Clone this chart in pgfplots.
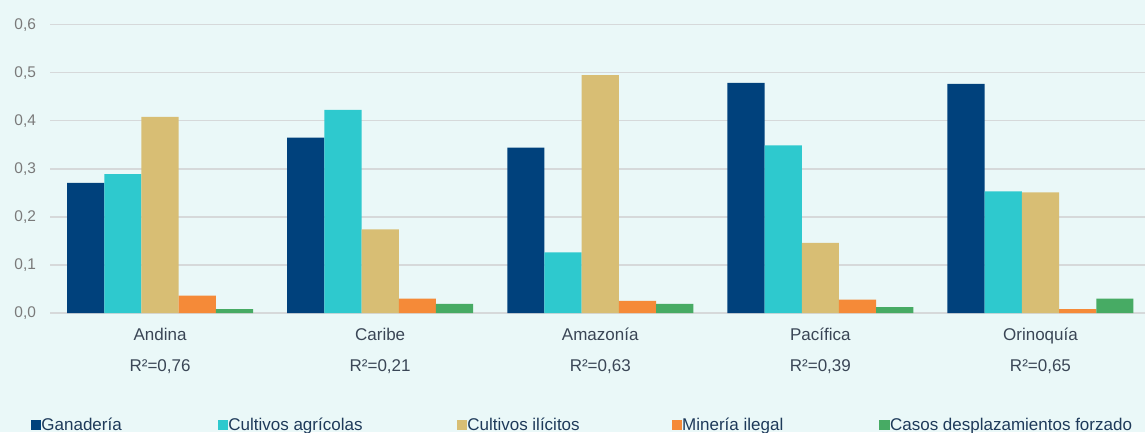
\documentclass[border=0pt]{standalone}
\usepackage{pgfplots}
\pgfplotsset{compat=1.18}
\usepackage{fontspec}
\setmainfont{Liberation Sans}
\definecolor{bgc}{HTML}{EAF8F8}
\definecolor{gridc}{HTML}{D6D9DA}
\definecolor{cGan}{HTML}{00417C}
\definecolor{cAgr}{HTML}{2EC9CE}
\definecolor{cIli}{HTML}{D8BE74}
\definecolor{cMin}{HTML}{F58A38}
\definecolor{cDes}{HTML}{47AB64}
\definecolor{ytc}{HTML}{7A7A7A}
\definecolor{xtc}{HTML}{3A4656}
\definecolor{legc}{HTML}{1E3A5A}
\begin{document}
\begin{tikzpicture}
\useasboundingbox (0,0) rectangle (858.75pt,324pt);
\clip (0,0) rectangle (858.75pt,324pt);
\fill[bgc] (0,0) rectangle (858.75pt,324pt);
\begin{axis}[
  at={(37.5pt,89.25pt)}, anchor=south west,
  scale only axis, width=821.25pt, height=216.2pt,
  xmin=-0.5, xmax=4.475, ymin=0, ymax=0.6,
  ybar=0pt, bar width=0.169,
  axis line style={draw=none},
  major tick length=0pt,
  ytick={0,0.1,...,0.6},
  ymajorgrids, grid style={color=gridc, line width=1pt},
  xtick={0,1,2,3,4},
  xticklabels={{Andina\\[8.6pt]R²=0,76},{Caribe\\[8.6pt]R²=0,21},{Amazonía\\[8.6pt]R²=0,63},{Pacífica\\[8.6pt]R²=0,39},{Orinoquía\\[8.6pt]R²=0,65}},
  xticklabel style={align=center, font=\fontsize{12.75pt}{15.2pt}\selectfont, text=xtc, yshift=-7.5pt},
  yticklabel style={font=\fontsize{11.6pt}{14pt}\selectfont, text=ytc, xshift=-7pt},
  /pgf/number format/.cd, use comma, fixed, fixed zerofill, precision=1, assume math mode=true, /pgfplots/.cd,
  legend columns=5,
  legend image code/.code={\fill[#1] (0pt,-4pt) rectangle (8pt,4pt);},
  legend style={at={(-0.0178,-0.388)}, anchor=west, draw=none, fill=none,
    inner sep=0pt, font=\fontsize{12.75pt}{15.2pt}\selectfont, text=legc,
    nodes={inner sep=0pt, anchor=west},
    /tikz/every even column/.append style={column sep=2.2pt}},
]
\addplot[fill=cGan, draw=none] coordinates {(0,0.271) (1,0.365) (2,0.344) (3,0.479) (4,0.477)};
\addlegendentry{\makebox[130pt][l]{Ganadería}}
\addplot[fill=cAgr, draw=none] coordinates {(0,0.289) (1,0.423) (2,0.126) (3,0.349) (4,0.253)};
\addlegendentry{\makebox[169pt][l]{Cultivos agrícolas}}
\addplot[fill=cIli, draw=none] coordinates {(0,0.408) (1,0.174) (2,0.495) (3,0.146) (4,0.251)};
\addlegendentry{\makebox[151pt][l]{Cultivos ilícitos}}
\addplot[fill=cMin, draw=none] coordinates {(0,0.036) (1,0.030) (2,0.025) (3,0.028) (4,0.008)};
\addlegendentry{\makebox[145.7pt][l]{Minería ilegal}}
\addplot[fill=cDes, draw=none] coordinates {(0,0.008) (1,0.019) (2,0.019) (3,0.012) (4,0.030)};
\addlegendentry{Casos desplazamientos forzado}
\end{axis}
\end{tikzpicture}
\end{document}
